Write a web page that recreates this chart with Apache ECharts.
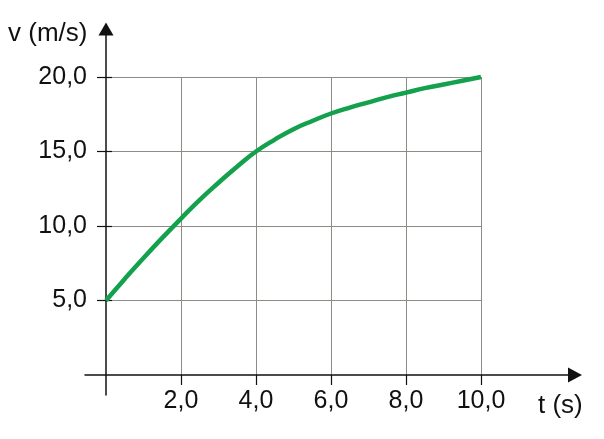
<!DOCTYPE html>
<html>
<head>
<meta charset="utf-8">
<script src="https://cdn.jsdelivr.net/npm/echarts@6/dist/echarts.min.js"></script>
<style>html,body{margin:0;padding:0;background:#fff}#c{width:604px;height:439px}</style>
</head>
<body>
<div id="c"></div>
<script>
const tValues = [0,0.5,1,1.5,2,2.5,3,3.5,4,4.5,5,5.5,6,6.5,7,7.5,8,8.5,9,9.5,10];
const vValues = [5,6.45,7.85,9.2,10.5,11.75,12.9,14.0,15.0,15.8,16.5,17.05,17.55,17.95,18.3,18.65,18.95,19.25,19.5,19.75,20];
const xTicks = [2,4,6,8,10];
const yTicks = [5,10,15,20];
const xName = 't (s)';
const yName = 'v (m/s)';

const fmt = v => v.toFixed(1).replace('.', ',');
const FONT = 'Liberation Sans, Arial, sans-serif';
const chart = echarts.init(document.getElementById('c'), null, {renderer:'canvas'});
chart.setOption({
  animation:false,
  backgroundColor:'#fff',
  grid:[
    {left:106, top:77, width:375, height:298},
    {left:85, top:29, width:490, height:366}
  ],
  xAxis:[
    {gridIndex:0, type:'value', min:0, max:10, interval:2,
     axisLine:{show:false},
     axisTick:{show:true, length:10, inside:false, lineStyle:{color:'#111', width:1.2},
       customValues:xTicks},
     axisLabel:{customValues:xTicks, formatter:fmt, margin:14, color:'#111', fontSize:25, fontFamily:FONT},
     splitLine:{show:true, lineStyle:{color:'#8c8c84', width:1}}},
    {gridIndex:1, type:'value', min:-0.56, max:12.51,
     axisLine:{show:true, onZero:true, symbol:['none','triangle'], symbolSize:[15,14],
       lineStyle:{color:'#111', width:1.5}},
     axisTick:{show:false}, axisLabel:{show:false}, splitLine:{show:false}}
  ],
  yAxis:[
    {gridIndex:0, type:'value', min:0, max:20, interval:5,
     axisLine:{show:false},
     axisTick:{show:true, length:9, inside:false, lineStyle:{color:'#111', width:1.2},
       customValues:yTicks},
     axisLabel:{customValues:yTicks, formatter:fmt, margin:19, color:'#111', fontSize:25, fontFamily:FONT},
     splitLine:{show:true, lineStyle:{color:'#8c8c84', width:1}}},
    {gridIndex:1, type:'value', min:-1.34, max:23.22,
     axisLine:{show:true, onZero:true, symbol:['none','triangle'], symbolSize:[15,13],
       lineStyle:{color:'#111', width:1.5}},
     axisTick:{show:true, inside:true, length:6, customValues:yTicks, lineStyle:{color:'#111', width:1.2}},
     axisLabel:{show:false}, splitLine:{show:false}}
  ],
  graphic:[
    {type:'text', left:8, top:21, style:{text:yName, font:'26px ' + FONT, fill:'#111'}},
    {type:'text', left:538, top:393, style:{text:xName, font:'26px ' + FONT, fill:'#111'}}
  ],
  series:[
    {type:'line', xAxisIndex:0, yAxisIndex:0, data:tValues.map((t,i)=>[t, vValues[i]]),
     smooth:0.5, showSymbol:false, lineStyle:{color:'#13a14d', width:4.5}, z:5}
  ]
});
</script>
</body>
</html>
